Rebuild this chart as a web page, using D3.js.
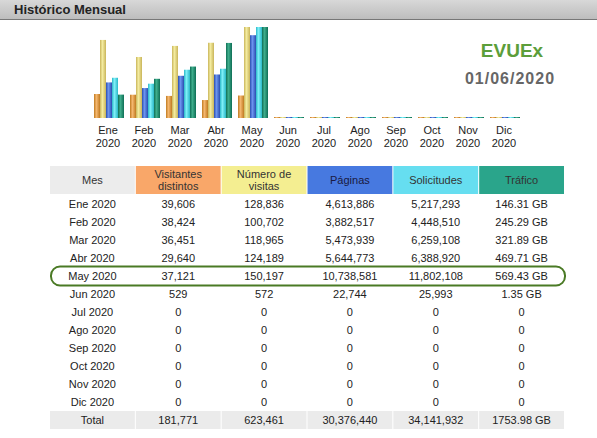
<!DOCTYPE html>
<html><head><meta charset="utf-8">
<script src="https://cdn.jsdelivr.net/npm/d3@7"></script>
<style>body{margin:0;background:#fff}text{font-family:"Liberation Sans",Arial,sans-serif}</style>
</head><body><svg id="c" width="597" height="438"></svg>
<script>
const months=["Ene","Feb","Mar","Abr","May","Jun","Jul","Ago","Sep","Oct","Nov","Dic"];
const rowLabels=months.map(m=>m+" 2020");
const visitors=[39606,38424,36451,29640,37121,529,0,0,0,0,0,0];
const visits=[128836,100702,118965,124189,150197,572,0,0,0,0,0,0];
const pages=[4613886,3882517,5473939,5644773,10738581,22744,0,0,0,0,0,0];
const hits=[5217293,4448510,6259108,6388920,11802108,25993,0,0,0,0,0,0];
const bandwidth=[146.31,245.29,321.89,469.71,569.43,1.35,0,0,0,0,0,0];
const headers=[["Mes"],["Visitantes","distintos"],["Número de","visitas"],["Páginas"],["Solicitudes"],["Tráfico"]];
const totals=["Total","181,771","623,461","30,376,440","34,141,932","1753.98 GB"];

const svg=d3.select("#c");
const defs=svg.append("defs");
const g0=defs.append("linearGradient").attr("id","hdr").attr("x1",0).attr("y1",0).attr("x2",0).attr("y2",1);
g0.append("stop").attr("offset",0).attr("stop-color","#d8d8d8");g0.append("stop").attr("offset",1).attr("stop-color","#bdbdbd");
svg.append("rect").attr("x",0).attr("y",0).attr("width",597).attr("height",19).attr("fill","url(#hdr)");
svg.append("line").attr("x1",0).attr("x2",597).attr("y1",19.5).attr("y2",19.5).attr("stroke","#777");
svg.append("text").attr("x",14).attr("y",14).attr("font-size",13).attr("font-weight","bold").attr("fill","#222").text("Histórico Mensual");

svg.append("text").attr("x",512).attr("y",57).attr("text-anchor","middle").attr("font-size",19).attr("font-weight","bold").attr("fill","#5c9e3a").attr("font-family","DejaVu Sans").text("EVUEx");
svg.append("text").attr("x",510).attr("y",84).attr("text-anchor","middle").attr("font-size",16).attr("font-weight","bold").attr("fill","#666").attr("font-family","DejaVu Sans").attr("letter-spacing",1).text("01/06/2020");

// bars
const series=[
 {v:visitors,max:d3.max(visits),c:["#f5b870","#c07a20"]},
 {v:visits,max:d3.max(visits),c:["#f4eca0","#c9b55a"]},
 {v:pages,max:d3.max(hits),c:["#6d95f0","#2a4eb0"]},
 {v:hits,max:d3.max(hits),c:["#7ff0f8","#2ab8c8"]},
 {v:bandwidth,max:d3.max(bandwidth),c:["#3fae8c","#0e6e55"]}];
series.forEach((s,i)=>{const g=defs.append("linearGradient").attr("id","b"+i);
 g.append("stop").attr("offset",0).attr("stop-color",s.c[1]);
 g.append("stop").attr("offset",0.4).attr("stop-color",s.c[0]);
 g.append("stop").attr("offset",1).attr("stop-color",s.c[1]);});
const x=d3.scaleBand().domain(months).range([90,522]).paddingInner(0.0);
const xi=d3.scaleBand().domain(d3.range(5)).range([4,34]);
const base=118,H=91;
months.forEach((m,mi)=>{
 series.forEach((s,si)=>{
  const y=d3.scaleLinear().domain([0,s.max]).range([base,base-H]);
  const h=Math.max(1,base-y(s.v[mi]));
  svg.append("rect").attr("x",x(m)+xi(si)).attr("width",xi.bandwidth()).attr("y",base-h).attr("height",h).attr("fill","url(#b"+si+")");
 });
 const t=svg.append("text").attr("x",x(m)+x.bandwidth()/2).attr("text-anchor","middle").attr("font-size",11).attr("fill","#222");
 t.append("tspan").attr("x",x(m)+x.bandwidth()/2).attr("y",134).text(m);
 t.append("tspan").attr("x",x(m)+x.bandwidth()/2).attr("y",147).text("2020");
});

// table
const hcol=["#ececec","#f9a769","#f4ee91","#4779e0","#66def0","#2aa58b"];
const cx=d3.scaleBand().domain(d3.range(6)).range([50,564]).paddingInner(0.012);
headers.forEach((h,i)=>{
 svg.append("rect").attr("x",cx(i)).attr("y",166).attr("width",cx.bandwidth()).attr("height",28).attr("fill",hcol[i]);
 const t=svg.append("text").attr("text-anchor","middle").attr("font-size",11).attr("fill",i==3?"#1a1a40":"#333");
 const xc=cx(i)+cx.bandwidth()/2;
 if(h.length==1)t.append("tspan").attr("x",xc).attr("y",184).text(h[0]);
 else{t.append("tspan").attr("x",xc).attr("y",178).text(h[0]);t.append("tspan").attr("x",xc).attr("y",190).text(h[1]);}
});
const fmt=d3.format(",");
const ry=d3.scaleLinear().domain([0,12]).range([208,424]);
rowLabels.forEach((r,ri)=>{
 const vals=[r,fmt(visitors[ri]),fmt(visits[ri]),fmt(pages[ri]),fmt(hits[ri]),bandwidth[ri]?bandwidth[ri].toFixed(2)+" GB":"0"];
 vals.forEach((v,i)=>svg.append("text").attr("x",cx(i)+cx.bandwidth()/2).attr("y",ry(ri)).attr("text-anchor","middle").attr("font-size",11).attr("fill","#222").text(v));
});
totals.forEach((v,i)=>{
 svg.append("rect").attr("x",cx(i)).attr("y",ry(12)-13).attr("width",cx.bandwidth()).attr("height",18).attr("fill","#ebebeb");
 svg.append("text").attr("x",cx(i)+cx.bandwidth()/2).attr("y",ry(12)).attr("text-anchor","middle").attr("font-size",11).attr("fill","#222").text(v);
});
svg.append("rect").attr("x",51).attr("y",ry(4)-13.5).attr("width",514).attr("height",19).attr("rx",9).attr("fill","none").attr("stroke","#4a7a25").attr("stroke-width",2);
</script></body></html>
